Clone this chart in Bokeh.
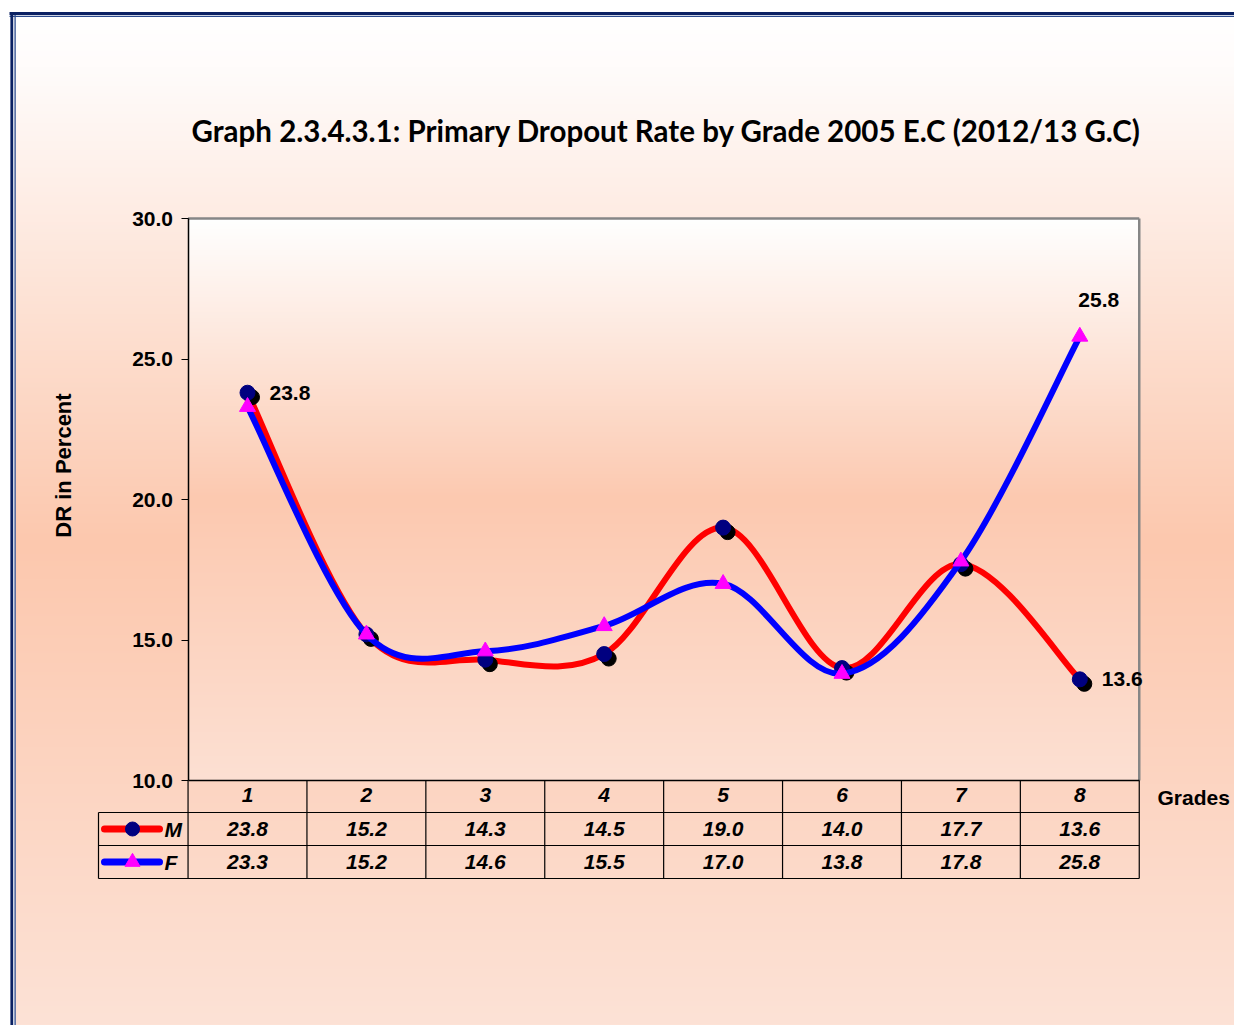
import numpy as np
from bokeh.plotting import figure
from bokeh.models import Range1d, LinearAxis, FixedTicker, PrintfTickFormatter
from bokeh.core.properties import value
from bokeh.embed import file_html
from bokeh.resources import INLINE

# ---------------- data ----------------
grades = [1, 2, 3, 4, 5, 6, 7, 8]
male = [23.8, 15.2, 14.3, 14.5, 19.0, 14.0, 17.7, 13.6]
female = [23.3, 15.2, 14.6, 15.5, 17.0, 13.8, 17.8, 25.8]
series_names = ["M", "F"]
y_ticks = [10, 15, 20, 25, 30]
title_text = "Graph 2.3.4.3.1: Primary Dropout Rate by Grade 2005 E.C (2012/13 G.C)"
y_label = "DR in Percent"
x_label = "Grades"

# ---------------- layout helpers (page pixel -> data) ----------------
XS = 118.9   # px per grade
YS = 28.1    # px per percent
GX = 247.0   # page x of grade 1
BY = 780.0   # page y of value 10
Y_MIN, Y_MAX = 10, 30
FIG_W, FIG_H = 1234, 1025
OFF = 0


def px_x(px):
    return 1 + (px - GX) / XS


def px_y(py):
    return Y_MIN + (BY - py) / YS


p = figure(width=FIG_W, height=FIG_H,
           x_range=Range1d(px_x(OFF), px_x(OFF + FIG_W)),
           y_range=Range1d(px_y(OFF + FIG_H), px_y(OFF)),
           output_backend="svg", toolbar_location=None,
           x_axis_type=None, y_axis_type=None, min_border=0,
           outline_line_color=None,
           background_fill_color="white", border_fill_color="white")
p.xgrid.visible = False
p.ygrid.visible = False


def hexrgb(h):
    h = h.lstrip("#")
    return [int(h[i:i + 2], 16) for i in (0, 2, 4)]


def gradient_img(n, stops):
    # stops: list of (t, color) with t from top(0) to bottom(1)
    ts = np.linspace(0, 1, n)
    img = np.empty((n, 1), dtype=np.uint32)
    view = img.view(dtype=np.uint8).reshape((n, 1, 4))
    st = [s[0] for s in stops]
    cols = np.array([hexrgb(s[1]) for s in stops], dtype=float)
    for c in range(3):
        ch = np.interp(ts, st, cols[:, c])
        view[:, 0, c] = ch[::-1].astype(np.uint8)  # row 0 is bottom
    view[:, 0, 3] = 255
    return img


# page gradient
pg_top, pg_bot, pg_left, pg_right = 17, 1025, 15, 1234
p.image_rgba(image=[gradient_img(600, [(0, "#ffffff"), (0.05, "#fffcfb"), (0.52, "#fcc8ae"), (1, "#fde2d6")])],
             x=px_x(pg_left), y=px_y(pg_bot), dw=(pg_right - pg_left) / XS, dh=(pg_bot - pg_top) / YS)

# plot area gradient
p.image_rgba(image=[gradient_img(400, [(0, "#ffffff"), (0.5, "#fcc9b0"), (1, "#fde0d3")])],
             x=0.5, y=Y_MIN, dw=len(grades), dh=Y_MAX - Y_MIN)

# page double border
p.segment(x0=[px_x(9), px_x(9)], y0=[px_y(13), px_y(15.8)], x1=[px_x(1234), px_x(1234)],
          y1=[px_y(13), px_y(15.8)], line_color=["#0b2163", "#2d4b8e"], line_width=[2.8, 1.3])
p.segment(x0=[px_x(11.3), px_x(14.6)], y0=[px_y(11.6), px_y(14.6)], x1=[px_x(11.3), px_x(14.6)],
          y1=[px_y(1025), px_y(1025)], line_color=["#0b2163", "#2d4b8e"], line_width=[2.8, 1.3])

# plot area outline (top & right grey)
xl, xr = 0.5, len(grades) + 0.5
p.segment(x0=[xl, xr], y0=[Y_MAX, Y_MAX], x1=[xr, xr], y1=[Y_MAX, Y_MIN],
          line_color="#868686", line_width=2.5)

# data table grid
row_h = 33.0 / YS
hdr_bot = Y_MIN - 32.0 / YS
m_bot = hdr_bot - row_h
f_bot = m_bot - row_h
leg_left = px_x(98)
vx = [g - 0.5 for g in grades] + [xr]
p.segment(x0=vx, y0=[Y_MIN] * len(vx), x1=vx, y1=[f_bot] * len(vx), line_color="black", line_width=1.2)
p.segment(x0=[leg_left] * 3, y0=[hdr_bot, m_bot, f_bot], x1=[xr] * 3, y1=[hdr_bot, m_bot, f_bot],
          line_color="black", line_width=1.2)
p.segment(x0=[leg_left], y0=[hdr_bot], x1=[leg_left], y1=[f_bot], line_color="black", line_width=1.2)


# smooth curves (Catmull-Rom style bezier, like Excel smoothed lines)
def bez(xs, ys):
    n = len(xs)
    out = {k: [] for k in ("x0", "y0", "x1", "y1", "cx0", "cy0", "cx1", "cy1")}
    for i in range(n - 1):
        a = i - 1 if i > 0 else i
        d = i + 2 if i + 2 < n else i + 1
        out["x0"].append(xs[i]); out["y0"].append(ys[i])
        out["x1"].append(xs[i + 1]); out["y1"].append(ys[i + 1])
        out["cx0"].append(xs[i] + (xs[i + 1] - xs[a]) / 6)
        out["cy0"].append(ys[i] + (ys[i + 1] - ys[a]) / 6)
        out["cx1"].append(xs[i + 1] - (xs[d] - xs[i]) / 6)
        out["cy1"].append(ys[i + 1] - (ys[d] - ys[i]) / 6)
    return out


RED, BLUE, NAVY, MAG = "#ff0000", "#0000ff", "#000080", "#ff00ff"
p.bezier(**bez(grades, male), line_color=RED, line_width=6, line_cap="round")
sdx, sdy = 4.5 / XS, -4.5 / YS
p.scatter([g + sdx for g in grades], [v + sdy for v in male], marker="circle", size=15,
          fill_color="black", line_color="black")
p.scatter(grades, male, marker="circle", size=15, fill_color=NAVY, line_color=NAVY)
p.bezier(**bez(grades, female), line_color=BLUE, line_width=6, line_cap="round")
p.scatter(grades, female, marker="triangle", size=16, fill_color=MAG, line_color=MAG)

# axes
yaxis = LinearAxis(fixed_location=0.5, bounds=(Y_MIN, Y_MAX), ticker=FixedTicker(ticks=y_ticks),
                   formatter=PrintfTickFormatter(format="%.1f"))
yaxis.major_tick_out = 7
yaxis.major_tick_in = 0
yaxis.minor_tick_out = 0
yaxis.minor_tick_in = 0
yaxis.axis_line_color = "black"
yaxis.axis_line_width = 1.5
yaxis.major_tick_line_color = "black"
yaxis.major_label_standoff = 8
yaxis.major_label_text_font = "Liberation Sans"
yaxis.major_label_text_font_style = "bold"
yaxis.major_label_text_font_size = "21px"
yaxis.major_label_text_color = "black"
p.add_layout(yaxis, "left")

xaxis = LinearAxis(fixed_location=Y_MIN, bounds=(xl, xr), ticker=FixedTicker(ticks=grades),
                   major_label_overrides={g: str(g) for g in grades})
xaxis.major_tick_out = 0
xaxis.major_tick_in = 0
xaxis.minor_tick_out = 0
xaxis.minor_tick_in = 0
xaxis.axis_line_color = "black"
xaxis.axis_line_width = 1.5
xaxis.major_label_standoff = 7
xaxis.major_label_text_font = "Liberation Sans"
xaxis.major_label_text_font_style = "bold italic"
xaxis.major_label_text_font_size = "21px"
xaxis.major_label_text_color = "black"
p.add_layout(xaxis, "below")

TF = value("Liberation Sans")
# table values
m_mid = (hdr_bot + m_bot) / 2
f_mid = (m_bot + f_bot) / 2
p.text(x=grades, y=[m_mid] * len(grades), text=[f"{v:.1f}" for v in male], text_font=TF,
       text_font_style="bold italic", text_font_size="21px", text_align="center", text_baseline="middle")
p.text(x=grades, y=[f_mid] * len(grades), text=[f"{v:.1f}" for v in female], text_font=TF,
       text_font_style="bold italic", text_font_size="21px", text_align="center", text_baseline="middle")

# legend keys in table
kx0, kx1, kxm = px_x(104), px_x(159), px_x(132)
p.segment(x0=[kx0], y0=[m_mid], x1=[kx1], y1=[m_mid], line_color=RED, line_width=7, line_cap="round")
p.scatter([kxm], [m_mid], marker="circle", size=14, fill_color=NAVY, line_color=NAVY)
p.segment(x0=[kx0], y0=[f_mid], x1=[kx1], y1=[f_mid], line_color=BLUE, line_width=7, line_cap="round")
p.scatter([kxm], [f_mid], marker="triangle", size=15, fill_color=MAG, line_color=MAG)
p.text(x=[px_x(164)] * 2, y=[m_mid, f_mid], text=series_names, text_font=TF,
       text_font_style="bold italic", text_font_size="21px", text_align="left", text_baseline="middle")

# data labels
lbl = dict(text_font=TF, text_font_style="bold", text_font_size="21px", text_baseline="middle")
p.text(x=[grades[0]], y=[male[0]], text=[f"{male[0]:.1f}"], x_offset=22, text_align="left", **lbl)
p.text(x=[grades[-1]], y=[male[-1]], text=[f"{male[-1]:.1f}"], x_offset=22, text_align="left", **lbl)
p.text(x=[grades[-1]], y=[female[-1]], text=[f"{female[-1]:.1f}"], x_offset=19, y_offset=-37,
       text_align="center", **lbl)

# axis titles
p.text(x=[px_x(63)], y=[px_y(465)], text=[y_label], angle=np.pi / 2, text_align="center",
       text_baseline="middle", text_font=TF, text_font_style="bold", text_font_size="22px")
p.text(x=[px_x(1157)], y=[px_y(797)], text=[x_label], text_align="left", **lbl)

# title
p.text(x=[px_x(666)], y=[px_y(130)], text=[title_text], text_font=value("Lato"), text_font_style="bold",
       text_font_size="29.5px", text_align="center", text_baseline="middle")

open("out.html", "w").write(file_html(p, INLINE))
